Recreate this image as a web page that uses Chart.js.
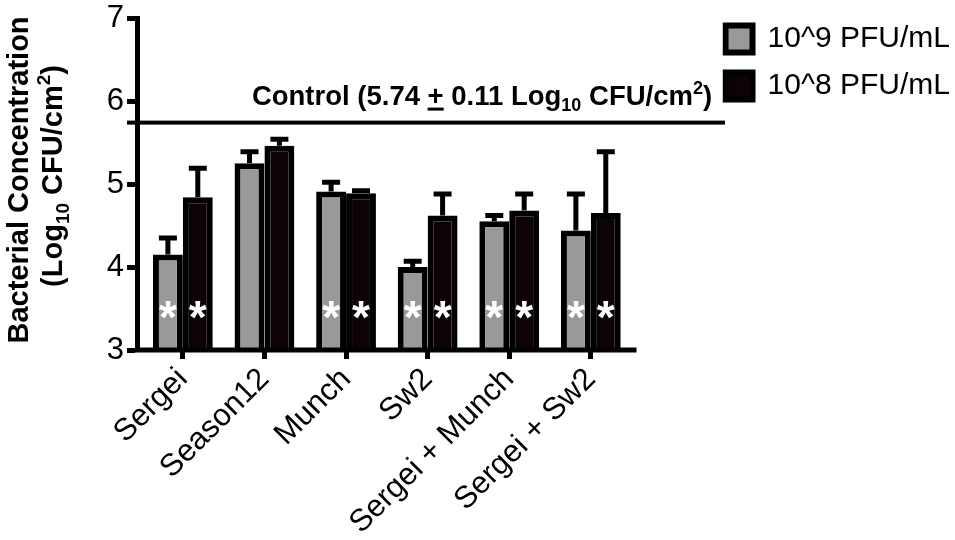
<!DOCTYPE html>
<html>
<head>
<meta charset="utf-8">
<script src="https://cdn.jsdelivr.net/npm/chart.js@4.4.1/dist/chart.umd.min.js"></script>
<style>
  html, body { margin: 0; padding: 0; background: #fff; }
  #wrap { width: 955px; height: 540px; position: relative; }
</style>
</head>
<body>
<div id="wrap"><canvas id="myChart"></canvas></div>
<script>
	// phage treatments on the x axis
	var strains = ['Sergei', 'Season12', 'Munch', 'Sw2', 'Sergei + Munch', 'Sergei + Sw2'];
	var seriesNames = ['10^9 PFU/mL', '10^8 PFU/mL'];

	// mean log10 CFU/cm2 and SD (upper bar only)
	var high = [4.15, 5.25, 4.91, 4.00, 4.55, 4.44];
	var highErr = [0.20, 0.14, 0.11, 0.07, 0.07, 0.44];
	var low = [4.84, 5.46, 4.89, 4.62, 4.68, 4.65];
	var lowErr = [0.35, 0.08, 0.03, 0.26, 0.20, 0.74];

	// significant vs control
	var highSig = [true, false, true, true, true, true];
	var lowSig = [true, false, true, true, true, true];

	var controlMean = 5.74;
	var yTicks = [3, 4, 5, 6, 7];

	var FONT = "'Liberation Sans', Arial, Helvetica, sans-serif";

	// draws a row of text pieces: [text, size, bold, dy, underline]
	function richText(ctx, parts, x, y) {
		var total = 0;
		parts.forEach(function(p) {
			ctx.font = (p[2] ? 'bold ' : '') + p[1] + 'px ' + FONT;
			p.w = ctx.measureText(p[0]).width;
			total += p.w;
		});
		var cx = x - total / 2;
		parts.forEach(function(p) {
			ctx.font = (p[2] ? 'bold ' : '') + p[1] + 'px ' + FONT;
			ctx.fillText(p[0], cx, y + p[3]);
			if (p[4]) ctx.fillRect(cx, y + 3, p.w, 3);
			cx += p.w;
		});
	}

	var extras = {
		id: 'extras',
		afterDatasetsDraw: function(chart) {
			var ctx = chart.ctx;
			var area = chart.chartArea;
			var xs = chart.scales.x, ys = chart.scales.y;
			ctx.save();
			ctx.fillStyle = '#000';
			ctx.strokeStyle = '#000';

			// x axis line (stops a bit after last group)
			ctx.fillRect(area.left - 2, area.bottom - 2.5, xs.getPixelForValue(5.56) - area.left + 2, 5);

			// error bars
			var errs = [highErr, lowErr];
			var vals = [high, low];
			ctx.lineWidth = 5;
			[0, 1].forEach(function(d) {
				chart.getDatasetMeta(d).data.forEach(function(bar, i) {
					var yTop = ys.getPixelForValue(vals[d][i] + errs[d][i]);
					ctx.beginPath();
					ctx.moveTo(bar.x, bar.y);
					ctx.lineTo(bar.x, yTop);
					ctx.moveTo(bar.x - 9, yTop);
					ctx.lineTo(bar.x + 9, yTop);
					ctx.stroke();
				});
			});

			// asterisks
			var sigs = [highSig, lowSig];
			ctx.fillStyle = '#fff';
			ctx.font = 'bold 46px ' + FONT;
			ctx.textAlign = 'center';
			ctx.textBaseline = 'alphabetic';
			[0, 1].forEach(function(d) {
				chart.getDatasetMeta(d).data.forEach(function(bar, i) {
					if (sigs[d][i]) ctx.fillText('*', bar.x, ys.getPixelForValue(3.52) + 26);
				});
			});

			// control line and label
			ctx.fillStyle = '#000';
			var yc = ys.getPixelForValue(controlMean);
			ctx.fillRect(area.left - 10, yc - 2, 725 - area.left + 10, 4);
			ctx.textAlign = 'left';
			richText(ctx, [
				['Control (5.74 ', 27.5, true, 0],
				['+', 27.5, true, 0, true],
				[' 0.11 Log', 27.5, true, 0],
				['10', 18, true, 6],
				[' CFU/cm', 27.5, true, 0],
				['2', 18, true, -11],
				[')', 27.5, true, 0]
			], 482, yc - 18);

			// y axis title, two rotated lines
			ctx.save();
			ctx.translate(28, 180);
			ctx.rotate(-Math.PI / 2);
			richText(ctx, [['Bacterial Concentration', 29, true, 0]], 0, 0);
			ctx.restore();
			ctx.save();
			ctx.translate(62, 176);
			ctx.rotate(-Math.PI / 2);
			richText(ctx, [
				['(Log', 29, true, 0],
				['10', 19, true, 7],
				[' CFU/cm', 29, true, 0],
				['2', 19, true, -12],
				[')', 29, true, 0]
			], 0, 0);
			ctx.restore();
			ctx.restore();
		}
	};

	var data = {
		datasets: [{
			label: seriesNames[0],
			data: high.map(function(v, i) { return { x: i, y: v }; }),
			backgroundColor: '#999999',
			borderColor: '#000000',
			borderWidth: 6,
			borderSkipped: 'bottom',
			barPercentage: 1,
			categoryPercentage: 0.733
		}, {
			label: seriesNames[1],
			data: low.map(function(v, i) { return { x: i, y: v }; }),
			backgroundColor: '#0d0204',
			borderColor: '#000000',
			borderWidth: 6,
			borderSkipped: 'bottom',
			barPercentage: 1,
			categoryPercentage: 0.733
		}]
	};

	var options = {
		responsive: true,
		maintainAspectRatio: false,
		animation: false,
		layout: { padding: { top: 7, left: 0, right: -5, bottom: 0 } },
		plugins: {
			legend: {
				position: 'right',
				align: 'start',
				onClick: null,
				title: { display: true, text: ' ', font: { size: 10, lineHeight: 1 }, padding: 2 },
				labels: {
					boxWidth: 27,
					boxHeight: 27,
					padding: 3,
					color: '#000',
					font: { family: FONT, size: 30, lineHeight: 44 / 30 },
					// one-line arrays so the row spacing follows the font line height
					generateLabels: function(chart) {
						return Chart.defaults.plugins.legend.labels.generateLabels(chart).map(function(item) {
							item.text = [item.text];
							return item;
						});
					}
				}
			},
			tooltip: { enabled: false }
		},
		scales: {
			x: {
				type: 'linear',
				min: -0.562,
				max: 6.614,
				offset: false,
				afterBuildTicks: function(scale) {
					scale.ticks = strains.map(function(s, i) { return { value: i }; });
				},
				afterFit: function(scale) { scale.height = 190; },
				ticks: {
					callback: function(v) { return strains[v]; },
					minRotation: 45,
					maxRotation: 45,
					autoSkip: false,
					color: '#000',
					padding: 2,
					font: { family: FONT, size: 31 }
				},
				grid: { offset: false, drawOnChartArea: false, tickLength: 9, tickWidth: 5, tickColor: '#000' },
				border: { display: false }
			},
			y: {
				min: 3,
				max: 7,
				afterBuildTicks: function(scale) {
					scale.ticks = yTicks.map(function(v) { return { value: v }; });
				},
				afterFit: function(scale) { scale.width = 137; },
				ticks: {
					color: '#000',
					padding: 3,
					font: { family: FONT, size: 31, lineHeight: 0.97 }
				},
				grid: { drawOnChartArea: false, tickLength: 10, tickWidth: 5, tickColor: '#000' },
				border: { display: true, width: 5, color: '#000' }
			}
		}
	};

	var ctx = document.getElementById('myChart').getContext('2d');
	var myChart = new Chart(ctx, {
		type: 'bar',
		data: data,
		options: options,
		plugins: [extras]
	});
</script>
</body>
</html>
